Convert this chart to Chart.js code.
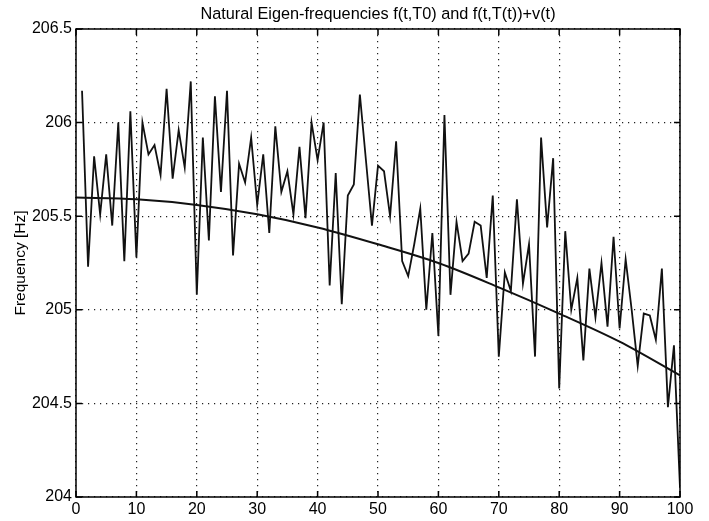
<!DOCTYPE html>
<html>
<head>
<meta charset="utf-8">
<script src="https://cdn.jsdelivr.net/npm/chart.js@4/dist/chart.umd.min.js"></script>
<style>
  html, body { margin: 0; padding: 0; background: #fff; }
  #wrap { width: 709px; height: 521px; }
</style>
</head>
<body>
<div id="wrap"><canvas id="myCanvas"></canvas></div>
<script>
// time axis ticks and frequency ticks
const xTicks = [0, 10, 20, 30, 40, 50, 60, 70, 80, 90, 100];
const yTicks = [204, 204.5, 205, 205.5, 206, 206.5];
const yTickLabels = ['204', '204.5', '205', '205.5', '206', '206.5'];

// f(t,T(t))+v(t), one sample per t = 1..100
const noisyF = [
  206.17, 205.23, 205.82, 205.51, 205.83, 205.45, 206.00, 205.26, 206.06, 205.28,
  206.00, 205.83, 205.88, 205.72, 206.18, 205.70, 205.96, 205.76, 206.22, 205.08,
  205.92, 205.37, 206.14, 205.63, 206.17, 205.29, 205.78, 205.68, 205.92, 205.56,
  205.83, 205.41, 205.98, 205.63, 205.74, 205.51, 205.87, 205.49, 206.00, 205.80,
  206.00, 205.13, 205.73, 205.03, 205.61, 205.67, 206.15, 205.80, 205.45, 205.77,
  205.74, 205.50, 205.90, 205.26, 205.18, 205.35, 205.54, 205.00, 205.41, 204.86,
  206.04, 205.08, 205.47, 205.26, 205.30, 205.47, 205.45, 205.17, 205.61, 204.75,
  205.20, 205.10, 205.59, 205.14, 205.35, 204.75, 205.92, 205.44, 205.81, 204.58,
  205.42, 205.00, 205.17, 204.73, 205.22, 204.96, 205.25, 204.91, 205.39, 204.90,
  205.27, 205.00, 204.70, 204.98, 204.97, 204.84, 205.22, 204.48, 204.81, 204.05
];

// f(t,T0), smooth curve read at every 10
const smoothT = [0, 10, 20, 30, 40, 50, 60, 70, 80, 90, 100];
const smoothF = [205.60, 205.59, 205.56, 205.51, 205.44, 205.35, 205.25, 205.12, 204.98, 204.83, 204.65];

const titleText = 'Natural Eigen-frequencies f(t,T0) and f(t,T(t))+v(t)';
const yLabel = 'Frequency [Hz]';

const fontFam = '"Liberation Sans", Arial, sans-serif';

// box round the plot with ticks pointing inward, like matlab,
// and the title centred over the plot area
const frame = {
  id: 'frame',
  afterDraw(chart) {
    const {ctx, chartArea: a, scales: {x, y}} = chart;
    ctx.save();
    ctx.strokeStyle = '#000';
    ctx.lineWidth = 1.5;
    ctx.strokeRect(a.left, a.top, a.right - a.left, a.bottom - a.top);
    ctx.beginPath();
    x.ticks.forEach(t => {
      const px = x.getPixelForValue(t.value);
      ctx.moveTo(px, a.bottom); ctx.lineTo(px, a.bottom - 6);
      ctx.moveTo(px, a.top); ctx.lineTo(px, a.top + 6);
    });
    y.ticks.forEach(t => {
      const py = y.getPixelForValue(t.value);
      ctx.moveTo(a.left, py); ctx.lineTo(a.left + 6, py);
      ctx.moveTo(a.right, py); ctx.lineTo(a.right - 6, py);
    });
    ctx.stroke();

    ctx.fillStyle = '#000';
    ctx.font = '16.3px ' + fontFam;
    ctx.textAlign = 'center';
    ctx.textBaseline = 'middle';
    ctx.fillText(titleText, (a.left + a.right) / 2, 14.5);
    ctx.restore();
  }
};

const myCanvas = document.getElementById('myCanvas');

const gChart = new Chart(myCanvas, {
  type: 'line',
  data: {
    datasets: [
      {
        data: noisyF.map((v, i) => ({x: i + 1, y: v})),
        borderColor: '#111',
        borderWidth: 1.8,
        pointRadius: 0,
        tension: 0
      },
      {
        data: smoothF.map((v, i) => ({x: smoothT[i], y: v})),
        borderColor: '#111',
        borderWidth: 2,
        pointRadius: 0,
        cubicInterpolationMode: 'monotone'
      }
    ]
  },
  options: {
    responsive: true,
    maintainAspectRatio: false,
    animation: false,
    layout: { padding: { left: 0, right: 29, top: 29, bottom: 0 } },
    plugins: {
      legend: { display: false },
      tooltip: { enabled: false },
      title: { display: false }
    },
    scales: {
      x: {
        type: 'linear',
        min: 0,
        max: 100,
        afterBuildTicks: s => { s.ticks = xTicks.map(v => ({value: v})); },
        afterFit: s => { s.height = 24; },
        grid: { color: '#222', lineWidth: 1.2, drawTicks: false },
        border: { display: false, dash: [1.2, 4.8] },
        ticks: { color: '#000', font: { family: fontFam, size: 16 }, padding: 3, maxRotation: 0 }
      },
      y: {
        min: 204,
        max: 206.5,
        afterBuildTicks: s => { s.ticks = yTicks.map(v => ({value: v})); },
        afterFit: s => { s.width = 76; },
        grid: { color: '#222', lineWidth: 1.2, drawTicks: false },
        border: { display: false, dash: [1.2, 4.8] },
        ticks: {
          color: '#000',
          font: { family: fontFam, size: 16 },
          padding: 4,
          callback: (v, i) => yTickLabels[i]
        },
        title: {
          display: true,
          text: yLabel,
          color: '#000',
          font: { family: fontFam, size: 15.5 },
          padding: { top: 11, bottom: 0 }
        }
      }
    }
  },
  plugins: [frame]
});
</script>
</body>
</html>
